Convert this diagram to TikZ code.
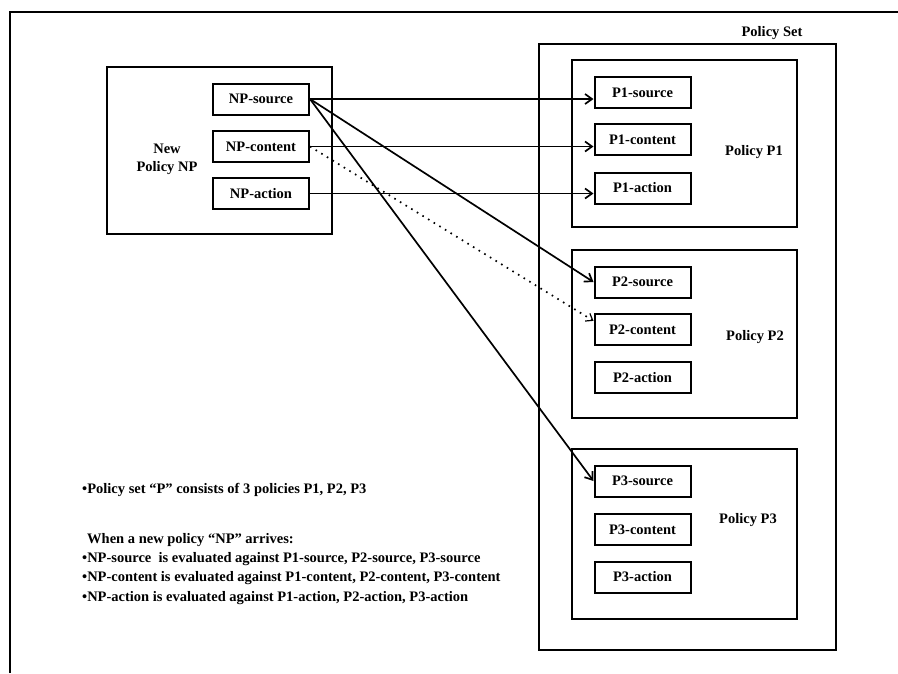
\documentclass[tikz,border=0pt]{standalone}
\usepackage{fontspec}
\setmainfont{Liberation Serif}
\usetikzlibrary{arrows.meta}
\begin{document}
\begin{tikzpicture}[x=1pt,y=-1pt,
  every node/.style={font=\bfseries\fontsize{14.5}{18}\selectfont},
  frame/.style={draw, line width=2.3pt},
  group/.style={draw, line width=2.1pt, minimum width=225pt, inner sep=0pt},
  field/.style={draw, line width=2pt, minimum width=96pt, minimum height=31pt, inner sep=0pt},
  link/.style={line width=1.7pt, -{Straight Barb[length=7pt,width=10pt,line width=1.7pt]}},
  weak/.style={line width=1.7pt, dash pattern=on 1.6pt off 5pt, -{Straight Barb[length=6pt,width=9pt,line width=1.2pt]}},
  note/.style={anchor=base west, inner sep=0pt},
  title/.style={align=center, inner sep=0pt}]

\useasboundingbox (0,0) rectangle (898,673);

% page frame, open at the right and bottom
\draw[frame] (10,673) -- (10,12) -- (898,12);

% new policy with its three fields
\node[group, minimum height=167pt] (NP) at (219.5,150.5) {};
\node[title] (NPlabel) at (167,159) {New\\Policy NP};
\node[field] (NPs) at (261,99) {NP-source};
\node[field] (NPc) at (261,146.5) {NP-content};
\node[field] (NPa) at (261,193.5) {NP-action};

% policy set
\node[draw, line width=2.1pt, minimum width=297pt, minimum height=606pt, inner sep=0pt] (set) at (687.5,347) {};
\node[inner sep=0pt] (setlabel) at (772,33) {Policy Set};

% policy P1
\node[group, minimum height=167pt] (P1) at (684.5,143.5) {};
\node[field] (P1s) at (642.5,92.5) {P1-source};
\node[field] (P1c) at (642.5,139.5) {P1-content};
\node[field] (P1a) at (642.5,188) {P1-action};
\node[inner sep=0pt] (P1label) at (754,152) {Policy P1};

% policy P2
\node[group, minimum height=168pt] (P2) at (684.5,334) {};
\node[field] (P2s) at (642.5,282) {P2-source};
\node[field] (P2c) at (642.5,329.5) {P2-content};
\node[field] (P2a) at (642.5,377.5) {P2-action};
\node[inner sep=0pt] (P2label) at (755,337) {Policy P2};

% policy P3
\node[group, minimum height=170pt] (P3) at (684.5,534) {};
\node[field] (P3s) at (642.5,481) {P3-source};
\node[field] (P3c) at (642.5,529.5) {P3-content};
\node[field] (P3a) at (642.5,577) {P3-action};
\node[inner sep=0pt] (P3label) at (748,520) {Policy P3};

% evaluation links
\draw[link] (NPs.east) -- (NPs.east -| P1s.west);
\draw[link, line width=1.5pt] (NPc.east) -- (NPc.east -| P1c.west);
\draw[link] (NPa.east) -- (NPa.east -| P1a.west);
\draw[link] (NPs.east) -- (P2s.west);
\draw[link] (NPs.east) -- (P3s.west);
\draw[weak] (NPc.east) -- (P2c.170);

% explanatory notes
\node[note] (n1) at (82,493) {•Policy set “P” consists of 3 policies P1, P2, P3};
\node[note] (n2) at (87,543) {When a new policy “NP” arrives:};
\node[note] (n3) at (82,562) {•NP-source\ \ is evaluated against P1-source, P2-source, P3-source};
\node[note] (n4) at (82,581) {•NP-content is evaluated against P1-content, P2-content, P3-content};
\node[note] (n5) at (82,601) {•NP-action is evaluated against P1-action, P2-action, P3-action};
\end{tikzpicture}
\end{document}
